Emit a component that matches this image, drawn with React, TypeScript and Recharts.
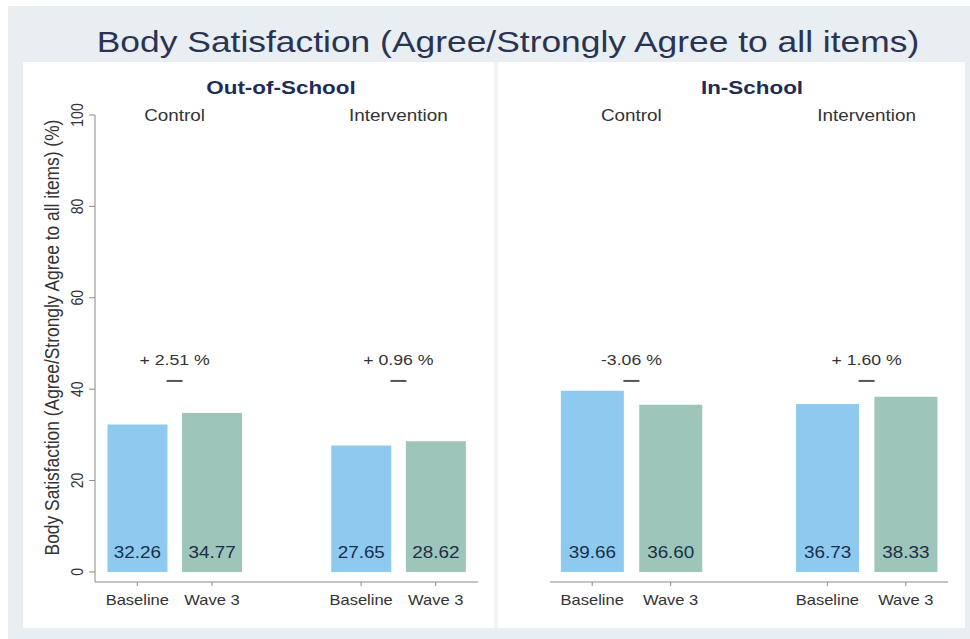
import React from 'react';
import { BarChart, Bar, XAxis, YAxis, Cell, LabelList, ReferenceLine, Label } from 'recharts';

// categories
const arms = ['Control', 'Intervention'];
const waves = ['Baseline', 'Wave 3'];
const yTicks = [0, 20, 40, 60, 80, 100];

// % agree / strongly agree, by arm (Control, Intervention)
const outOfSchoolBaseline = [32.26, 27.65];
const outOfSchoolWave3 = [34.77, 28.62];
const outOfSchoolChange = ['+ 2.51 %', '+ 0.96 %'];
const inSchoolBaseline = [39.66, 36.73];
const inSchoolWave3 = [36.6, 38.33];
const inSchoolChange = ['-3.06 %', '+ 1.60 %'];

const TITLE = 'Body Satisfaction (Agree/Strongly Agree to all items)';
const Y_LABEL = 'Body Satisfaction (Agree/Strongly Agree to all items) (%)';

const FONT = '"Liberation Sans", Arial, Helvetica, sans-serif';
const SX = 1.18; // the source picture is stretched sideways a bit
const BASE_COLOR = '#8ecaef';
const WAVE_COLOR = '#9dc5b9';
const INK = '#333333';
const NAVY = '#1f2c55';
const VALUE_INK = '#1b2f4a';
const AXIS = '#8a8a8a';
const CHANGE_Y = 46.4;
const DASH_Y = 41.8;

type Row = { key: string; wave: string; value: number | null };

function buildRows(baseline: number[], wave3: number[]): Row[] {
  const rows: Row[] = [];
  arms.forEach((arm, i) => {
    if (i > 0) rows.push({ key: 'gap', wave: '', value: null });
    rows.push({ key: `${arm}-b`, wave: waves[0], value: baseline[i] });
    rows.push({ key: `${arm}-w`, wave: waves[1], value: wave3[i] });
  });
  return rows;
}

function SText({ x, y, size, fill = INK, weight, rotate, children }: any) {
  const t = `translate(${x},${y}) scale(${SX},1)${rotate ? ` rotate(${rotate})` : ''}`;
  return (
    <text transform={t} fontSize={size} fill={fill} textAnchor="middle" fontWeight={weight} fontFamily={FONT}>
      {children}
    </text>
  );
}

function Panel({ rows, changes, width, left, right, pad, showY }: any) {
  const XTick = ({ x, y, payload }: any) => {
    const row = rows.find((r: Row) => r.key === payload.value);
    if (!row || !row.wave) return null;
    return (
      <g>
        <line x1={x} x2={x} y1={y} y2={y + 4} stroke={AXIS} />
        <SText x={x} y={y + 23} size={14}>{row.wave}</SText>
      </g>
    );
  };
  const YTick = ({ x, y, payload }: any) => (
    <SText x={x - 4} y={y} size={14} rotate={-90}>{payload.value}</SText>
  );

  return (
    <BarChart
      width={width}
      height={566}
      data={rows}
      margin={{ top: 53, right, bottom: 16, left }}
      barCategoryGap="10%"
      style={{ fontFamily: FONT }}
    >
      <XAxis
        dataKey="key"
        height={30}
        padding={pad}
        tickSize={0}
        tickMargin={0}
        tick={<XTick />}
        axisLine={{ stroke: AXIS }}
        interval={0}
      />
      <YAxis
        hide={!showY}
        width={72}
        domain={[-2.2, 100]}
        ticks={yTicks}
        tickSize={6}
        tick={<YTick />}
        tickLine={{ stroke: AXIS }}
        axisLine={{ stroke: AXIS }}
      >
        {showY && (
          <Label
            content={(p: any) => (
              <SText x={36} y={p.viewBox.y + p.viewBox.height / 2 - 11} size={17.4} rotate={-90}>
                {Y_LABEL}
              </SText>
            )}
          />
        )}
      </YAxis>
      <Bar dataKey="value" isAnimationActive={false}>
        {rows.map((r: Row, i: number) => (
          <Cell key={i} fill={r.wave === waves[0] ? BASE_COLOR : WAVE_COLOR} />
        ))}
        <LabelList
          dataKey="value"
          content={(p: any) =>
            p.value == null ? null : (
              <SText x={p.x + p.width / 2} y={p.y + p.height - 14} size={16} fill={VALUE_INK}>
                {Number(p.value).toFixed(2)}
              </SText>
            )
          }
        />
      </Bar>
      {arms.map((arm) => (
        <ReferenceLine
          key={arm + '-name'}
          segment={[{ x: `${arm}-b`, y: 100 }, { x: `${arm}-b`, y: 100 }]}
          position="end"
          ifOverflow="visible"
          shape={(p: any) => (
            <SText x={p.x1} y={p.y1 + 6} size={16}>{arm}</SText>
          )}
        />
      ))}
      {arms.map((arm, i) => (
        <ReferenceLine
          key={arm + '-change'}
          segment={[{ x: `${arm}-b`, y: DASH_Y }, { x: `${arm}-b`, y: CHANGE_Y }]}
          position="end"
          ifOverflow="visible"
          shape={(p: any) => (
            <g>
              <line x1={p.x1 - 8} x2={p.x1 + 8} y1={p.y1} y2={p.y1} stroke="#555" strokeWidth={2} />
              <SText x={p.x2} y={p.y2 + 5.5} size={15}>{changes[i]}</SText>
            </g>
          )}
        />
      ))}
    </BarChart>
  );
}

export default function App() {
  const outRows = buildRows(outOfSchoolBaseline, outOfSchoolWave3);
  const inRows = buildRows(inSchoolBaseline, inSchoolWave3);
  const abs = (s: any) => ({ position: 'absolute' as const, ...s });

  return (
    <div style={abs({ left: 0, top: 0, width: 970, height: 639, background: '#fff', overflow: 'hidden', fontFamily: FONT })}>
      <div style={abs({ left: 8, top: 6, width: 962, height: 633, background: '#e8eef1' })} />
      <div
        style={abs({
          left: 108, top: 27, width: 800, lineHeight: '30px', fontSize: 30, color: '#2a3452',
          textAlign: 'center', transform: `scaleX(${SX})`, whiteSpace: 'nowrap',
        })}
      >
        {TITLE}
      </div>
      <div style={abs({ left: 23, top: 62, width: 942, height: 566, background: '#fff' })} />
      <div style={abs({ left: 494, top: 62, width: 4, height: 566, background: '#f1f3f5' })} />
      <div style={abs({ left: 23, top: 62 })}>
        <Panel rows={outRows} changes={outOfSchoolChange} width={474} left={0} right={19} pad={{ left: 5, right: 5 }} showY />
      </div>
      <div style={abs({ left: 497, top: 62 })}>
        <Panel rows={inRows} changes={inSchoolChange} width={468} left={53} right={17} pad={{ left: 3, right: 3 }} showY={false} />
      </div>
      {[
        { t: 'Out-of-School', cx: 281 },
        { t: 'In-School', cx: 752 },
      ].map((p) => (
        <div
          key={p.t}
          style={abs({
            left: p.cx - 150, top: 78, width: 300, lineHeight: '20px', fontSize: 19, fontWeight: 'bold',
            color: NAVY, textAlign: 'center', transform: `scaleX(${SX})`,
          })}
        >
          {p.t}
        </div>
      ))}
    </div>
  );
}
